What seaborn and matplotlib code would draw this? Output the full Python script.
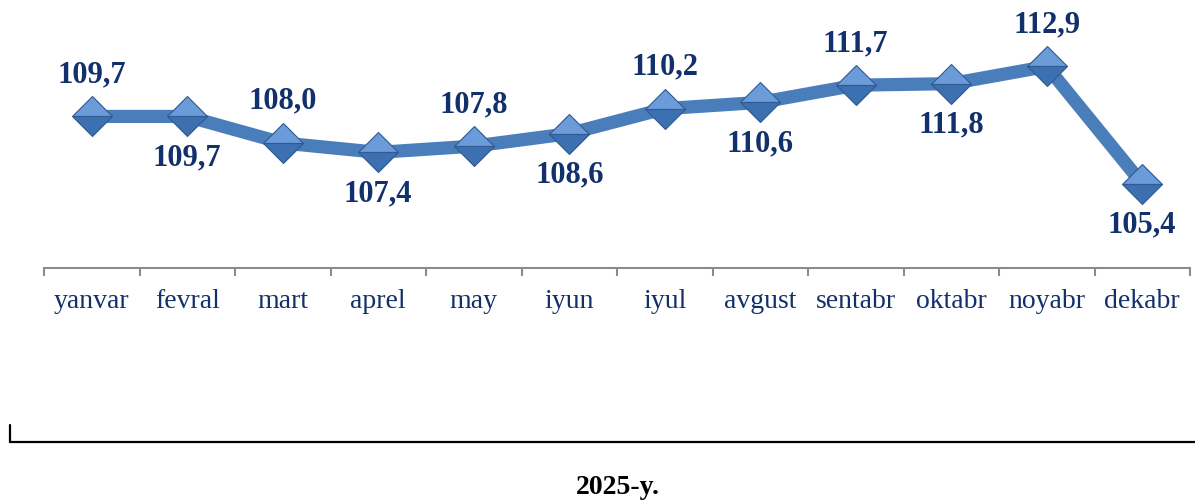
import numpy as np
import pandas as pd
import seaborn as sns
import matplotlib.pyplot as plt
from matplotlib.lines import Line2D

# Dados do gráfico
meses = ['yanvar', 'fevral', 'mart', 'aprel', 'may', 'iyun',
         'iyul', 'avgust', 'sentabr', 'oktabr', 'noyabr', 'dekabr']
valores = [109.7, 109.7, 108.0, 107.4, 107.8, 108.6,
           110.2, 110.6, 111.7, 111.8, 112.9, 105.4]
rotulos = ['109,7', '109,7', '108,0', '107,4', '107,8', '108,6',
           '110,2', '110,6', '111,7', '111,8', '112,9', '105,4']
ano = '2025-y.'

sns.set_style('white')
plt.rcParams['font.family'] = ['Liberation Serif', 'DejaVu Serif']

azul_linha = '#4A7EBB'
azul_texto = '#12306B'

df = pd.DataFrame({'mes': meses, 'valor': valores})

fig = plt.figure(figsize=(11.95, 5), dpi=100)
ax = fig.add_axes([44 / 1195, 1 - 268 / 500, (1190 - 44) / 1195, (268 - 18) / 500])

sns.lineplot(data=df, x='mes', y='valor', sort=False, ax=ax, color=azul_linha,
             linewidth=9.5, marker='D', markersize=20, fillstyle='top',
             markerfacecolor='#6C9BDA', markerfacecoloralt='#3D70B0',
             markeredgecolor='#2F5A92', markeredgewidth=0.8)

ax.set_xlim(-0.5, 11.5)
ax.set_ylim(100, 116)

# Rótulos alternando acima / abaixo
for i, (v, r) in enumerate(zip(valores, rotulos)):
    dy = 30 if i % 2 == 0 else -30
    ax.annotate(r, (i, v), xytext=(0, dy), textcoords='offset points',
                ha='center', va='center', fontsize=22, fontweight='bold',
                color=azul_texto)

# Eixos
for s in ['top', 'right', 'left']:
    ax.spines[s].set_visible(False)
ax.spines['bottom'].set_color('#8C8C8C')
ax.spines['bottom'].set_linewidth(1.5)
ax.set_yticks([])
ax.set_xticks(range(len(meses)))
ax.set_xticklabels(meses, fontsize=20, color=azul_texto)
ax.set_xticks(np.arange(-0.5, 12, 1), minor=True)
ax.tick_params(axis='x', which='major', bottom=False, length=0, pad=15)
ax.tick_params(axis='x', which='minor', bottom=True, length=6, width=1.5,
               color='#8C8C8C', direction='out')
ax.set_xlabel('')
ax.set_ylabel('')

# Colchete inferior com o ano
fig.add_artist(Line2D([10 / 1195, 10 / 1195], [1 - 425 / 500, 1 - 442 / 500],
                      color='black', linewidth=1.6, transform=fig.transFigure))
fig.add_artist(Line2D([10 / 1195, 1], [1 - 442 / 500, 1 - 442 / 500],
                      color='black', linewidth=1.6, transform=fig.transFigure))
fig.text(618 / 1195, 1 - 487 / 500, ano, ha='center', va='center',
         fontsize=20, fontweight='bold', color='black')

fig.savefig('out.png', dpi=100)
